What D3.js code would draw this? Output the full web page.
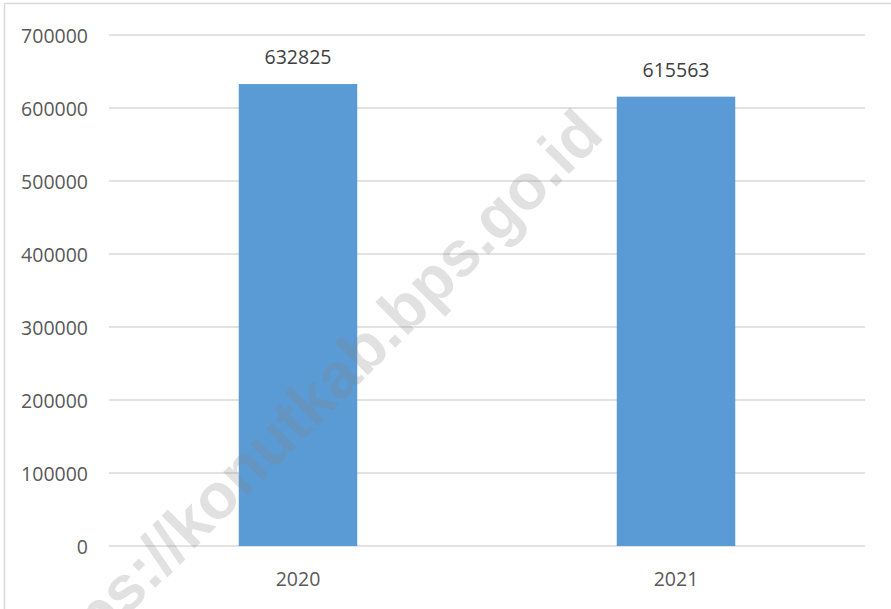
<!DOCTYPE html>
<html>
<head>
<meta charset="utf-8">
<script src="https://cdn.jsdelivr.net/npm/d3@7"></script>
<style>
  html, body { margin: 0; padding: 0; background: #fff; }
  svg { display: block; }
</style>
</head>
<body>
<svg id="chart" width="891" height="609"></svg>
<script>
const categories = ["2020", "2021"];
const values = [632825, 615563];
const yTicks = [0, 100000, 200000, 300000, 400000, 500000, 600000, 700000];
const watermark = "https://konutkab.bps.go.id";

const svg = d3.select("#chart");
const W = 891, H = 609;
const plot = { left: 109, right: 865, top: 35, bottom: 546 };
const font = "'Open Sans', 'Noto Sans', sans-serif";

// outer frame (top and left edges visible)
svg.append("line").attr("x1", 4.5).attr("x2", W).attr("y1", 3.5).attr("y2", 3.5)
  .attr("stroke", "#d9d9d9").attr("stroke-width", 1.5);
svg.append("line").attr("x1", 4.5).attr("x2", 4.5).attr("y1", 3.5).attr("y2", H)
  .attr("stroke", "#d9d9d9").attr("stroke-width", 1.5);

const x = d3.scaleBand().domain(categories)
  .range([plot.left, plot.right]).paddingInner(0.6865).paddingOuter(0.6865 / 2);
const y = d3.scaleLinear().domain([0, 700000]).range([plot.bottom, plot.top]);

// gridlines
svg.append("g").selectAll("line").data(yTicks).join("line")
  .attr("x1", plot.left).attr("x2", plot.right)
  .attr("y1", d => y(d)).attr("y2", d => y(d))
  .attr("stroke", "#d9d9d9").attr("stroke-width", 1.5);

// y-axis labels
const yAxis = d3.axisLeft(y).tickValues(yTicks).tickSize(0).tickPadding(0)
  .tickFormat(d3.format("d"));
const gy = svg.append("g").attr("transform", "translate(88,0)").call(yAxis);
gy.select(".domain").remove();
gy.selectAll("text").attr("font-family", font).attr("font-size", 19.5)
  .attr("fill", "#595959").attr("dy", "0.36em");

// x-axis labels
const xAxis = d3.axisBottom(x).tickSize(0).tickPadding(0);
const gx = svg.append("g").attr("transform", `translate(0,${plot.bottom})`).call(xAxis);
gx.select(".domain").remove();
gx.selectAll("text").attr("font-family", font).attr("font-size", 19.5)
  .attr("fill", "#595959").attr("dy", null).attr("y", 40);

// bars
svg.append("g").selectAll("rect").data(values).join("rect")
  .attr("x", (d, i) => x(categories[i]))
  .attr("width", x.bandwidth())
  .attr("y", d => y(d))
  .attr("height", d => y(0) - y(d))
  .attr("fill", "#5b9bd5");

// value labels
svg.append("g").selectAll("text").data(values).join("text")
  .attr("x", (d, i) => x(categories[i]) + x.bandwidth() / 2)
  .attr("y", d => y(d) - 20)
  .attr("text-anchor", "middle")
  .attr("font-family", font).attr("font-size", 19.5)
  .attr("fill", "#404040")
  .text(d => d);

// watermark
svg.append("text")
  .attr("transform", "translate(606,137) rotate(-45)")
  .attr("text-anchor", "end")
  .attr("font-family", "'Liberation Sans', Arial, sans-serif")
  .attr("font-weight", "bold")
  .attr("font-size", 64)
  .attr("fill", "#808080")
  .attr("fill-opacity", 0.24)
  .text(watermark);
</script>
</body>
</html>
